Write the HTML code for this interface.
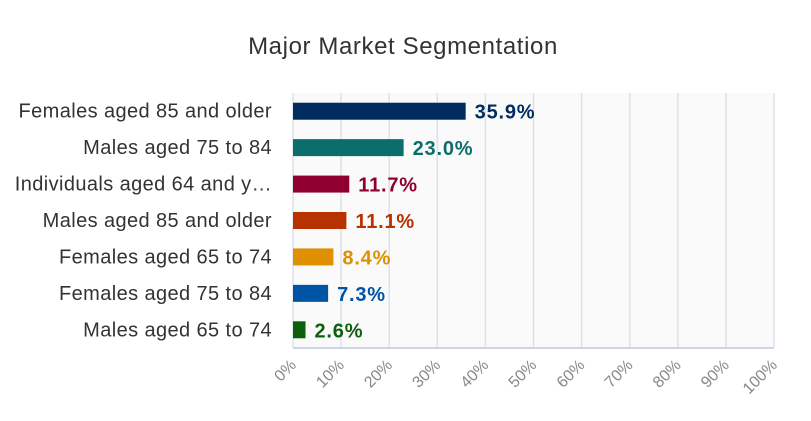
<!DOCTYPE html>
<html><head><meta charset="utf-8"><style>
body{margin:0;background:#fff;font-family:"Liberation Sans",sans-serif;}
svg text{font-family:"Liberation Sans",sans-serif;}
</style></head><body>
<svg id="chart" width="811" height="416" xmlns="http://www.w3.org/2000/svg">
<text x="403" y="54" text-anchor="middle" font-size="24" letter-spacing="0.6" fill="#333">Major Market Segmentation</text>
<g id="grid"></g><g id="bars"></g><g id="labels"></g>
</svg>
<script>
const categories=["Females aged 85 and older","Males aged 75 to 84","Individuals aged 64 and y…","Males aged 85 and older","Females aged 65 to 74","Females aged 75 to 84","Males aged 65 to 74"];
const values=[35.9,23.0,11.7,11.1,8.4,7.3,2.6];
const valueLabels=["35.9%","23.0%","11.7%","11.1%","8.4%","7.3%","2.6%"];
const colors=["#002c5f","#0b6e6a","#8f0030","#b83200","#de9000","#0054a6","#0d5e0d"];
const ticks=[0,10,20,30,40,50,60,70,80,90,100];
const X0=293,X1=774,Y0=93,Y1=348;
const x=v=>X0+(X1-X0)*v/100;
const band=(Y1-Y0)/categories.length;
const NS="http://www.w3.org/2000/svg";
function mk(t,a){const e=document.createElementNS(NS,t);for(const k in a)e.setAttribute(k,a[k]);return e;}
const g=document.getElementById('grid'),b=document.getElementById('bars'),l=document.getElementById('labels');
const bg=mk('rect',{x:X0,y:Y0,width:X1-X0,height:Y1-Y0,fill:'#fafafa'});


g.appendChild(bg);
ticks.forEach(t=>{
 const ln=mk('line',{x1:x(t),x2:x(t),y1:Y0,y2:Y1,stroke:'#dde0ec','stroke-width':1.5});
 
 
 g.appendChild(ln);
 const tx=mk('text',{x:x(t)+4,y:Y1+18,'text-anchor':'end','font-size':16,fill:'#888',transform:`rotate(-45 ${x(t)+4} ${Y1+18})`});
 tx.textContent=t+'%';
 
 
 g.appendChild(tx);
});
const ax=mk('line',{x1:X0,x2:X1,y1:Y1,y2:Y1,stroke:'#cfd4e6','stroke-width':2});


g.appendChild(ax);
categories.forEach((c,i)=>{
 const cy=Y0+band*(i+0.5);
 const r=mk('rect',{x:X0,y:cy-8.5,width:x(values[i])-X0,height:17,fill:colors[i]});
 
 
 b.appendChild(r);
 const v=mk('text',{x:x(values[i])+9,y:cy+7.5,'font-size':20,'font-weight':'bold','letter-spacing':0.8,fill:colors[i]});
 v.textContent=valueLabels[i];
 
 
 b.appendChild(v);
 const ct=mk('text',{x:272,y:cy+6.5,'text-anchor':'end','font-size':20,'letter-spacing':0.4,fill:'#333'});
 ct.textContent=c;
 
 
 l.appendChild(ct);
});
</script>
</body></html>
